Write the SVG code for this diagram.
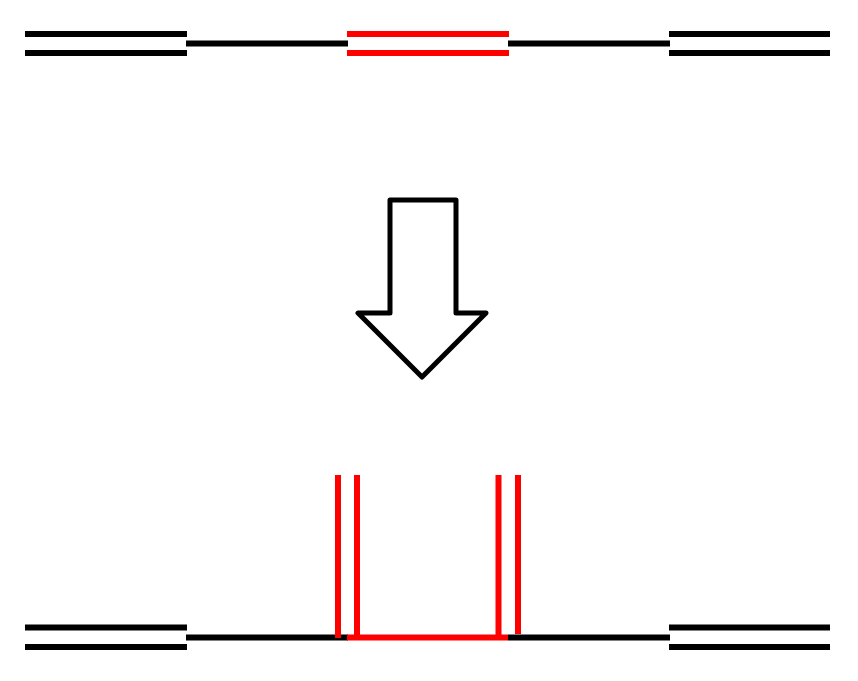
<svg xmlns="http://www.w3.org/2000/svg" width="858" height="681" viewBox="0 0 858 681">
<style>
.k{stroke:#000;stroke-width:6;fill:none}
.r{stroke:#f00;stroke-width:6;fill:none}
</style>
<rect width="858" height="681" fill="#fff"/>
<g id="top">
<line class="k" x1="25" y1="34" x2="187" y2="34"/>
<line class="k" x1="25" y1="53" x2="187" y2="53"/>
<line class="k" x1="186" y1="43.5" x2="348" y2="43.5" stroke-width="7"/>
<line class="r" x1="347" y1="34" x2="509" y2="34"/>
<line class="r" x1="347" y1="53" x2="509" y2="53"/>
<line class="k" x1="508" y1="43.5" x2="670" y2="43.5" stroke-width="7"/>
<line class="k" x1="669" y1="34" x2="830" y2="34"/>
<line class="k" x1="669" y1="53" x2="830" y2="53"/>
</g>
<g id="arrow">
<polygon points="390,200 456,200 456,313 486,313 422,377 358,313 390,313" fill="#fff" stroke="#000" stroke-width="5" stroke-linejoin="round"/>
</g>
<g id="bottom">
<line class="k" x1="25" y1="627.5" x2="187" y2="627.5" stroke-width="7"/>
<line class="k" x1="25" y1="647" x2="187" y2="647"/>
<line class="k" x1="186" y1="637.5" x2="348" y2="637.5" stroke-width="7"/>
<line class="k" x1="508" y1="637.5" x2="670" y2="637.5" stroke-width="7"/>
<line class="k" x1="669" y1="627.5" x2="830" y2="627.5" stroke-width="7"/>
<line class="k" x1="669" y1="647" x2="830" y2="647"/>
<line class="r" x1="338" y1="475" x2="338" y2="638"/>
<line class="r" x1="357" y1="475" x2="357" y2="636"/>
<line class="r" x1="498.5" y1="475" x2="498.5" y2="636" stroke-width="7"/>
<line class="r" x1="518" y1="475" x2="518" y2="634"/>
<line class="r" x1="347" y1="637.5" x2="508" y2="637.5" stroke-width="7"/>
</g>
</svg>
